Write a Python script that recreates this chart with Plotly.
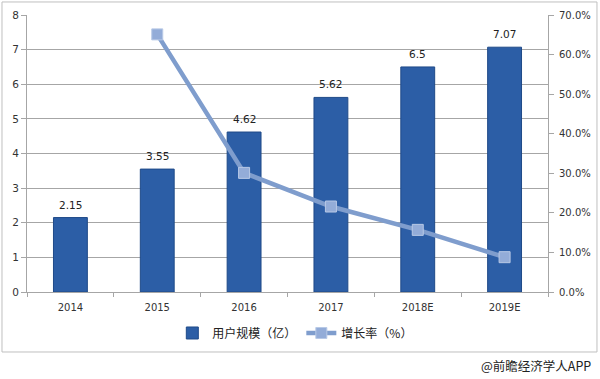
import plotly.graph_objects as go

categories = ["2014", "2015", "2016", "2017", "2018E", "2019E"]
users = [2.15, 3.55, 4.62, 5.62, 6.5, 7.07]          # 用户规模（亿）
growth_years = ["2015", "2016", "2017", "2018E", "2019E"]
growth = [0.651, 0.301, 0.216, 0.157, 0.088]          # 增长率
left_ticks = [0, 1, 2, 3, 4, 5, 6, 7, 8]
right_ticks = [0, 0.1, 0.2, 0.3, 0.4, 0.5, 0.6, 0.7]

NUM_FONT = "DejaVu Sans"
CJK_FONT = "Noto Sans CJK SC"

fig = go.Figure()
fig.add_trace(go.Bar(
    x=categories, y=users, name="用户规模（亿）",
    marker=dict(color="#2C5EA6", line=dict(color="#1F4A88", width=1)),
    width=0.39,
))
fig.add_trace(go.Scatter(
    x=growth_years, y=growth, name="增长率（%）", yaxis="y2",
    mode="lines+markers",
    line=dict(color="#7F9DCD", width=4.5),
    marker=dict(symbol="square", size=11, color="#93ACD8",
                line=dict(color="#B8C9E6", width=1)),
))

# value labels above bars, positioned through the category axis (by category index)
value_labels = [
    dict(x=i, y=v, xref="x", yref="y", text=str(v), showarrow=False,
         yanchor="bottom", yshift=5,
         font=dict(family=NUM_FONT, size=10.5, color="#222"))
    for i, v in enumerate(users)
]

fig.update_layout(
    width=600, height=379,
    margin=dict(l=27, r=52, t=15, b=87, autoexpand=False),
    paper_bgcolor="white", plot_bgcolor="white",
    font=dict(family=NUM_FONT, size=10, color="#333"),
    xaxis=dict(
        type="category", categoryorder="array", categoryarray=categories,
        range=[-0.5, 5.5], automargin=False,
        showline=True, linecolor="#A6A6A6", linewidth=1,
        ticks="outside", tickson="boundaries", ticklen=4, tickcolor="#A6A6A6",
        ticklabelstandoff=6,
        tickfont=dict(family=NUM_FONT, size=10, color="#333"),
        showgrid=False,
    ),
    yaxis=dict(
        range=[0, 8], tickvals=left_ticks, automargin=False,
        showline=True, linecolor="#A6A6A6", linewidth=1,
        ticks="outside", ticklen=5, tickcolor="#A6A6A6",
        showgrid=True, gridcolor="#A6A6A6", gridwidth=1,
        zeroline=False,
        tickfont=dict(family=NUM_FONT, size=10.5, color="#333"),
    ),
    yaxis2=dict(
        range=[0, 0.7], tickvals=right_ticks, tickformat=".1%",
        overlaying="y", side="right", automargin=False,
        showline=True, linecolor="#A6A6A6", linewidth=1,
        ticks="outside", ticklen=5, tickcolor="#A6A6A6",
        ticklabelstandoff=3,
        showgrid=False, zeroline=False,
        tickfont=dict(family=NUM_FONT, size=10, color="#333"),
    ),
    legend=dict(
        orientation="h", x=0.515, xanchor="center", y=-0.148, yanchor="middle",
        font=dict(family=CJK_FONT, size=12, color="#222"),
        itemwidth=30, traceorder="normal",
    ),
    shapes=[dict(
        type="rect", xref="paper", yref="paper",
        x0=-0.048, x1=1.094, y0=-0.2166, y1=1.047,
        line=dict(color="#BFBFBF", width=1), fillcolor="rgba(0,0,0,0)",
        layer="below",
    )],
    annotations=value_labels + [dict(
        text="@前瞻经济学人APP", xref="paper", yref="paper",
        x=1.086, y=-0.267, xanchor="right", yanchor="middle",
        showarrow=False, font=dict(family=CJK_FONT, size=12.5, color="#222"),
    )],
)

fig.write_html(
    "out.html",
    config={"displayModeBar": False},
    post_script="document.body.style.margin='0';document.body.style.overflow='hidden';",
)
